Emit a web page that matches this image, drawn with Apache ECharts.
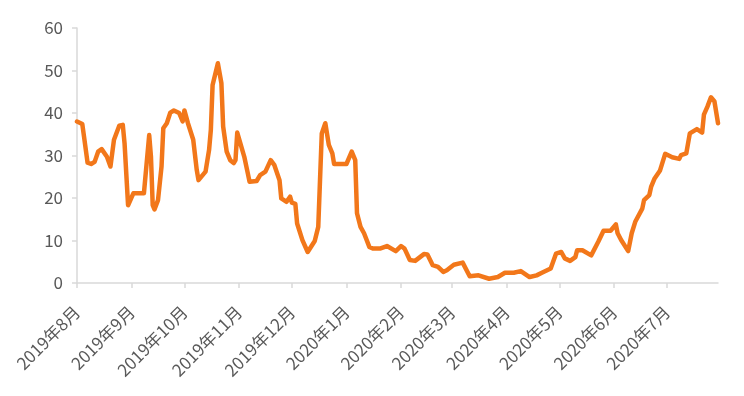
<!DOCTYPE html>
<html><head><meta charset="utf-8">
<script src="https://cdn.jsdelivr.net/npm/echarts@6/dist/echarts.min.js"></script>
<style>html,body{margin:0;padding:0;background:#fff}#c{width:744px;height:396px}</style>
</head><body><div id="c"></div>
<script>
const axisStart = '2019-08-01';
const axisEnd = '2020-07-30';
const tickLabels = ['2019年8月','2019年9月','2019年10月','2019年11月','2019年12月','2020年1月','2020年2月','2020年3月','2020年4月','2020年5月','2020年6月','2020年7月'];
const dates = [
'2019-08-01','2019-08-04','2019-08-05','2019-08-07','2019-08-09','2019-08-11','2019-08-13','2019-08-15','2019-08-18','2019-08-20','2019-08-22','2019-08-25','2019-08-27','2019-08-28','2019-08-30','2019-08-31',
'2019-09-02','2019-09-08','2019-09-11','2019-09-12','2019-09-13','2019-09-14','2019-09-16','2019-09-18','2019-09-19','2019-09-21','2019-09-23','2019-09-25','2019-09-28','2019-09-30',
'2019-10-01','2019-10-03','2019-10-06','2019-10-08','2019-10-09','2019-10-13','2019-10-15','2019-10-16','2019-10-17','2019-10-20','2019-10-22','2019-10-23','2019-10-25','2019-10-27','2019-10-29','2019-10-30','2019-10-31',
'2019-11-04','2019-11-06','2019-11-07','2019-11-11','2019-11-13','2019-11-16','2019-11-17','2019-11-19','2019-11-21','2019-11-24','2019-11-25','2019-11-28','2019-11-30',
'2019-12-01','2019-12-03','2019-12-04','2019-12-07','2019-12-10','2019-12-11','2019-12-14','2019-12-16','2019-12-17','2019-12-18','2019-12-20','2019-12-22','2019-12-24','2019-12-25',
'2020-01-01','2020-01-04','2020-01-06','2020-01-07','2020-01-09','2020-01-11','2020-01-14','2020-01-16','2020-01-20','2020-01-24','2020-01-29',
'2020-02-01','2020-02-03','2020-02-06','2020-02-09','2020-02-14','2020-02-16','2020-02-19','2020-02-22','2020-02-25','2020-02-27',
'2020-03-02','2020-03-07','2020-03-11','2020-03-16','2020-03-22','2020-03-27','2020-03-31',
'2020-04-05','2020-04-09','2020-04-14','2020-04-18','2020-04-21','2020-04-26','2020-04-29',
'2020-05-02','2020-05-04','2020-05-07','2020-05-10','2020-05-11','2020-05-14','2020-05-19','2020-05-23','2020-05-26','2020-05-30',
'2020-06-02','2020-06-03','2020-06-05','2020-06-09','2020-06-11','2020-06-13','2020-06-17','2020-06-18','2020-06-21','2020-06-22','2020-06-24','2020-06-27','2020-06-30',
'2020-07-01','2020-07-04','2020-07-08','2020-07-09','2020-07-12','2020-07-14','2020-07-18','2020-07-19','2020-07-21','2020-07-22','2020-07-24','2020-07-26','2020-07-28','2020-07-30'
];
const values = [
38.0,37.4,34.4,28.3,28.0,28.5,30.9,31.5,29.7,27.4,33.7,37.0,37.2,32.9,18.3,18.6,
21.1,21.1,34.8,29.7,18.3,17.3,19.5,27.4,36.4,37.6,40.1,40.6,40.0,38.0,
40.6,37.6,33.7,26.6,24.2,26.2,31.3,36.0,46.6,51.7,47.0,36.8,30.9,28.9,28.2,28.9,35.4,
29.7,25.8,23.8,24.0,25.4,26.2,26.6,28.9,27.8,24.2,19.9,19.1,20.3,
18.9,18.6,14.0,10.1,7.3,7.5,9.9,13.2,24.2,35.2,37.6,32.5,30.5,28.0,
28.0,30.9,28.9,16.4,13.2,11.7,8.5,8.1,8.1,8.7,7.5,
8.7,8.1,5.4,5.2,6.8,6.7,4.2,3.8,2.6,3.0,
4.3,4.8,1.6,1.8,1.0,1.4,2.4,
2.4,2.8,1.4,1.8,2.4,3.4,6.9,
7.3,5.8,5.2,6.1,7.7,7.7,6.5,9.7,12.3,12.3,
13.8,11.7,10.1,7.5,11.7,14.4,17.5,19.5,20.7,22.6,24.6,26.4,30.4,
30.5,29.6,29.2,30.1,30.5,35.2,36.2,36.6,35.4,39.6,41.5,43.7,42.7,37.6
];

// build daily category axis
function fmt(d){const m=d.getUTCMonth()+1, day=d.getUTCDate();return d.getUTCFullYear()+'-'+(m<10?'0':'')+m+'-'+(day<10?'0':'')+day;}
const days = [];
for (let d = new Date(axisStart+'T00:00:00Z'); d <= new Date(axisEnd+'T00:00:00Z'); d = new Date(d.getTime()+86400000)) days.push(fmt(d));
const lookup = {};
dates.forEach((d,i)=>{lookup[d]=values[i];});
const seriesData = days.map(d => (d in lookup) ? lookup[d] : null);
const monthStarts = days.filter(d => d.endsWith('-01'));
const isMonthStart = (idx, val) => val.endsWith('-01');

const chart = echarts.init(document.getElementById('c'), null, {renderer:'canvas'});
const font = '"Noto Sans CJK SC", "Noto Sans", sans-serif';
chart.setOption({
  animation: false,
  backgroundColor: '#ffffff',
  grid: {left: 77, right: 26, top: 28, bottom: 113, containLabel: false, outerBoundsMode: 'none'},
  xAxis: {
    type: 'category',
    data: days,
    boundaryGap: false,
    axisLine: {show: true, lineStyle: {color: '#D9D9D9', width: 1.5}},
    axisTick: {show: true, interval: isMonthStart, length: 5, lineStyle: {color: '#D9D9D9', width: 1.5}},
    axisLabel: {
      interval: isMonthStart, rotate: 45, margin: 26,
      color: '#595959', fontSize: 17, fontFamily: font,
      formatter: (v) => tickLabels[monthStarts.indexOf(v)]
    },
    splitLine: {show: false}
  },
  yAxis: {
    type: 'value', min: 0, max: 60, interval: 10,
    axisLine: {show: true, lineStyle: {color: '#D9D9D9', width: 1.5}},
    axisTick: {show: true, length: 5, lineStyle: {color: '#D9D9D9', width: 1.5}},
    axisLabel: {color: '#595959', fontSize: 17, fontFamily: font, margin: 14},
    splitLine: {show: false}
  },
  series: [{
    type: 'line',
    data: seriesData,
    connectNulls: true,
    showSymbol: false,
    symbol: 'none',
    lineStyle: {color: '#F2771A', width: 4.5, join: 'round', cap: 'round'},
    itemStyle: {color: '#F2771A'}
  }]
});
</script></body></html>
